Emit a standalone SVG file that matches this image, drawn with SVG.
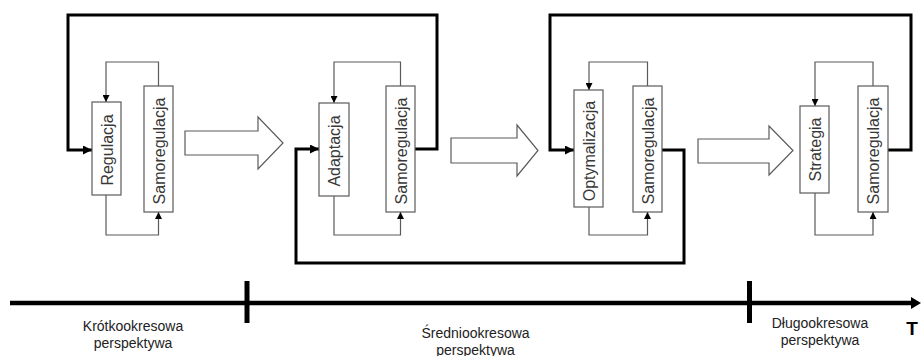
<svg xmlns="http://www.w3.org/2000/svg" width="921" height="356" viewBox="0 0 921 356">
<defs>
<style>
.box{fill:#fff;stroke:#5a5a5a;stroke-width:1.2}
.bt{font-family:"Liberation Sans",Arial,sans-serif;font-size:16px;fill:#383838;text-anchor:middle}
.lbl{font-family:"Liberation Sans",Arial,sans-serif;font-size:14px;fill:#222;text-anchor:middle}
.thin{fill:none;stroke:#5a5a5a;stroke-width:1.2;marker-end:url(#ah)}
.thick{fill:none;stroke:#000;stroke-width:3;marker-end:url(#AH)}
.big{fill:#fff;stroke:#5a5a5a;stroke-width:1.2}
</style>
<marker id="ah" viewBox="0 0 10 10" refX="10" refY="5" markerWidth="7" markerHeight="7" markerUnits="userSpaceOnUse" orient="auto"><path d="M0,0 L10,5 L0,10 z" fill="#000"/></marker>
<marker id="AH" viewBox="0 0 10 10" refX="10" refY="5" markerWidth="9" markerHeight="9" markerUnits="userSpaceOnUse" orient="auto"><path d="M0,0 L10,5 L0,10 z" fill="#000"/></marker>
</defs>
<rect width="921" height="356" fill="#fff"/>
<g id="connectors">
<path class="thin" d="M158.5,86 V62 H106 V102"/>
<path class="thin" d="M106,195 V235 H158.5 V212"/>
<path class="thin" d="M400.5,86 V62 H334 V103"/>
<path class="thin" d="M334,196 V235 H400.5 V212"/>
<path class="thin" d="M647.5,86 V62 H589 V90"/>
<path class="thin" d="M589,207 V235 H647.5 V212"/>
<path class="thin" d="M873,86 V62 H815 V106"/>
<path class="thin" d="M815,193 V235 H873 V212"/>
<path class="thick" d="M415,149 H437 V15 H68 V150 H92"/>
<path class="thick" d="M662,150 H684 V263 H296 V149 H319"/>
<path class="thick" d="M888,150 H911 V15 H550 V150 H574"/>
<polygon class="big" points="185,131 258,131 258,117 283,143 258,169 258,155 185,155"/>
<polygon class="big" points="451,138 517,138 517,125 538,150.5 517,176 517,163 451,163"/>
<polygon class="big" points="698,139 769,139 769,126 793,150.5 769,175 769,163 698,163"/>
</g>
<g id="n-regulacja"><rect class="box" x="92" y="102" width="29" height="93"/><text class="bt" x="106.5" y="156" transform="rotate(-90 106.5 150)">Regulacja</text></g>
<g id="n-samoregulacja1"><rect class="box" x="144" y="86" width="29" height="126"/><text class="bt" x="158.5" y="157" transform="rotate(-90 158.5 151)">Samoregulacja</text></g>
<g id="n-adaptacja"><rect class="box" x="319" y="103" width="30" height="93"/><text class="bt" x="334" y="157" transform="rotate(-90 334 151)">Adaptacja</text></g>
<g id="n-samoregulacja2"><rect class="box" x="386" y="86" width="29" height="126"/><text class="bt" x="400.5" y="157" transform="rotate(-90 400.5 151)">Samoregulacja</text></g>
<g id="n-optymalizacja"><rect class="box" x="574" y="90" width="29" height="117"/><text class="bt" x="588.5" y="157" transform="rotate(-90 588.5 151)">Optymalizacja</text></g>
<g id="n-samoregulacja3"><rect class="box" x="633" y="86" width="29" height="126"/><text class="bt" x="647.5" y="157" transform="rotate(-90 647.5 151)">Samoregulacja</text></g>
<g id="n-strategia"><rect class="box" x="800" y="106" width="29" height="87"/><text class="bt" x="814.5" y="155.5" transform="rotate(-90 814.5 149.5)">Strategia</text></g>
<g id="n-samoregulacja4"><rect class="box" x="858" y="86" width="30" height="126"/><text class="bt" x="873" y="157" transform="rotate(-90 873 151)">Samoregulacja</text></g>
<g id="timeline">
<path d="M10,303 H914" stroke="#000" stroke-width="4.5" fill="none"/>
<polygon points="911,297 921,303 911,309" fill="#000"/>
<rect x="244.5" y="281" width="5" height="42" fill="#000"/>
<rect x="747" y="281" width="5" height="42" fill="#000"/>
<text class="lbl" x="133" y="331">Krótkookresowa</text>
<text class="lbl" x="133" y="347.5">perspektywa</text>
<text class="lbl" x="475.5" y="338">Średniookresowa</text>
<text class="lbl" x="475.5" y="354.5">perspektywa</text>
<text class="lbl" x="820" y="328">Długookresowa</text>
<text class="lbl" x="820" y="344.5">perspektywa</text>
<text x="912" y="335" font-family="'Liberation Sans',Arial,sans-serif" font-size="19" font-weight="bold" fill="#000" text-anchor="middle">T</text>
</g>
</svg>
